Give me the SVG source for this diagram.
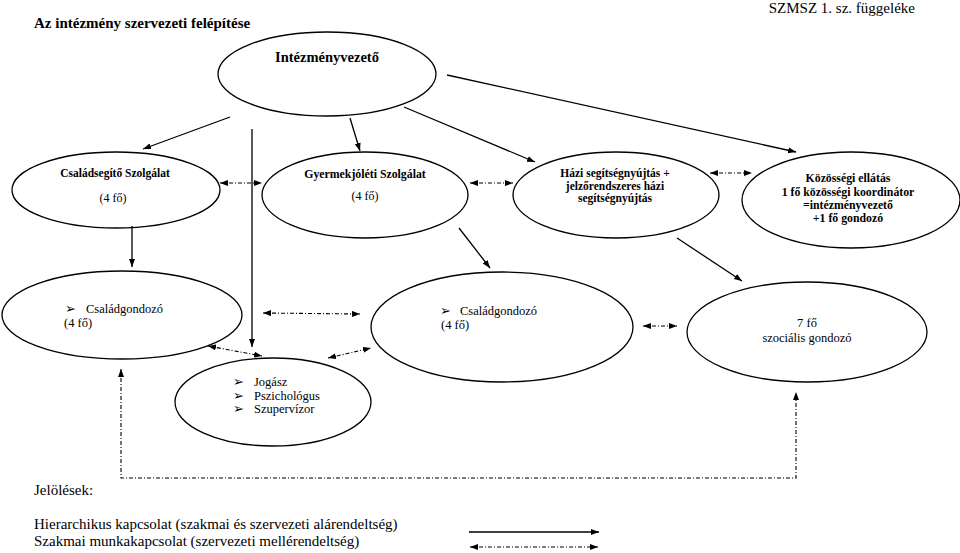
<svg xmlns="http://www.w3.org/2000/svg" width="960" height="553" viewBox="0 0 960 553">
<defs>
<marker id="ah" markerUnits="userSpaceOnUse" markerWidth="9" markerHeight="7" refX="8" refY="3" orient="auto-start-reverse" viewBox="0 0 9 7">
<path d="M0,0 L8,3 L0,6 z" fill="#000"/>
</marker>
<style>
text{font-family:"Liberation Serif","Times New Roman",serif;fill:#000}
.node ellipse{fill:#fff;stroke:#000;stroke-width:1.3}
.b{font-weight:bold}
.bul{font-size:12.5px}
.solid{fill:none;stroke:#000;stroke-width:1.3;marker-end:url(#ah)}
.dd{fill:none;stroke:#000;stroke-width:1.1;stroke-dasharray:4 2 1 2;marker-start:url(#ah);marker-end:url(#ah)}
</style>
</defs>
<rect width="960" height="553" fill="#fff"/>
<text x="34" y="28" font-size="15" class="b">Az intézmény szervezeti felépítése</text>
<text x="915" y="13" font-size="15" text-anchor="end">SZMSZ 1. sz. függeléke</text>

<g id="n-intezmenyvezeto" class="node">
<ellipse cx="327" cy="74" rx="109" ry="42"/>
<text x="327" y="62" font-size="14.5" class="b" text-anchor="middle">Intézményvezető</text>
</g>
<g id="n-csaladsegito" class="node">
<ellipse cx="116" cy="190" rx="104" ry="38"/>
<text x="115" y="177" font-size="11.5" class="b" text-anchor="middle">Családsegítő Szolgálat</text>
<text x="113" y="202" font-size="12" text-anchor="middle">(4 fő)</text>
</g>
<g id="n-gyermekjoleti" class="node">
<ellipse cx="365" cy="195" rx="103" ry="43"/>
<text x="365" y="178" font-size="11.8" class="b" text-anchor="middle">Gyermekjóléti Szolgálat</text>
<text x="365" y="200" font-size="12" text-anchor="middle">(4 fő)</text>
</g>
<g id="n-hazi" class="node">
<ellipse cx="616" cy="195" rx="103" ry="43"/>
<text x="615" y="177" font-size="11.5" class="b" text-anchor="middle">Házi segítségnyújtás  +</text>
<text x="615" y="190" font-size="11.5" class="b" text-anchor="middle">jelzőrendszeres házi</text>
<text x="615" y="202" font-size="11.5" class="b" text-anchor="middle">segítségnyújtás</text>
</g>
<g id="n-kozossegi" class="node">
<ellipse cx="851" cy="200" rx="109" ry="48"/>
<text x="848" y="182" font-size="11.8" class="b" text-anchor="middle">Közösségi ellátás</text>
<text x="848" y="196" font-size="11.8" class="b" text-anchor="middle">1 fő közösségi koordinátor</text>
<text x="848" y="209" font-size="11.8" class="b" text-anchor="middle">=intézményvezető</text>
<text x="848" y="222" font-size="11.8" class="b" text-anchor="middle">+1 fő gondozó</text>
</g>
<g id="n-csaladgondozo1" class="node">
<ellipse cx="122" cy="315" rx="120" ry="44"/>
<text x="65" y="313" class="bul">➢</text>
<text x="86" y="313" font-size="12.5">Családgondozó</text>
<text x="64" y="327" font-size="12.5">(4 fő)</text>
</g>
<g id="n-csaladgondozo2" class="node">
<ellipse cx="502" cy="327" rx="131" ry="55"/>
<text x="440" y="315" class="bul">➢</text>
<text x="460" y="315" font-size="12.5">Családgondozó</text>
<text x="441" y="329" font-size="12.5">(4 fő)</text>
</g>
<g id="n-szocialis" class="node">
<ellipse cx="807" cy="332" rx="120" ry="50"/>
<text x="807" y="327" font-size="12.5" text-anchor="middle">7 fő</text>
<text x="807" y="342" font-size="12.5" text-anchor="middle">szociális gondozó</text>
</g>
<g id="n-jogasz" class="node">
<ellipse cx="273" cy="402" rx="98" ry="44"/>
<text x="233" y="386" class="bul">➢</text>
<text x="254" y="386" font-size="12.5">Jogász</text>
<text x="233" y="400" class="bul">➢</text>
<text x="254" y="400" font-size="12.5">Pszichológus</text>
<text x="233" y="413" class="bul">➢</text>
<text x="254" y="413" font-size="12.5">Szupervízor</text>
</g>

<g id="connectors">
<path class="solid" d="M230,117 L143,149"/>
<path class="solid" d="M252,129 L252,347"/>
<path class="solid" d="M350,118 L360,151"/>
<path class="solid" d="M404,107 L535,162"/>
<path class="solid" d="M447,75 L796,152"/>
<path class="solid" d="M132,226 L132,267"/>
<path class="solid" d="M459,228 L490,268"/>
<path class="solid" d="M677,238 L742,281"/>
<path class="dd" d="M220,183 L262,183"/>
<path class="dd" d="M470,183 L513,183"/>
<path class="dd" d="M710,173 L752,173"/>
<path class="dd" d="M263,313 L360,314"/>
<path class="dd" d="M208,346 L262,356"/>
<path class="dd" d="M328,358 L371,348"/>
<path class="dd" d="M643,326 L677,326"/>
<path class="dd" d="M121,369 L121,478 L796,478 L796,392"/>
</g>

<g id="legend">
<text x="34" y="495" font-size="15">Jelölések:</text>
<text x="34" y="529" font-size="15">Hierarchikus kapcsolat (szakmai és szervezeti alárendeltség)</text>
<text x="34" y="546" font-size="15">Szakmai munkakapcsolat (szervezeti mellérendeltség)</text>
<path class="solid" d="M469,532 L599,532"/>
<path class="dd" d="M470,547 L598,547"/>
</g>
</svg>
